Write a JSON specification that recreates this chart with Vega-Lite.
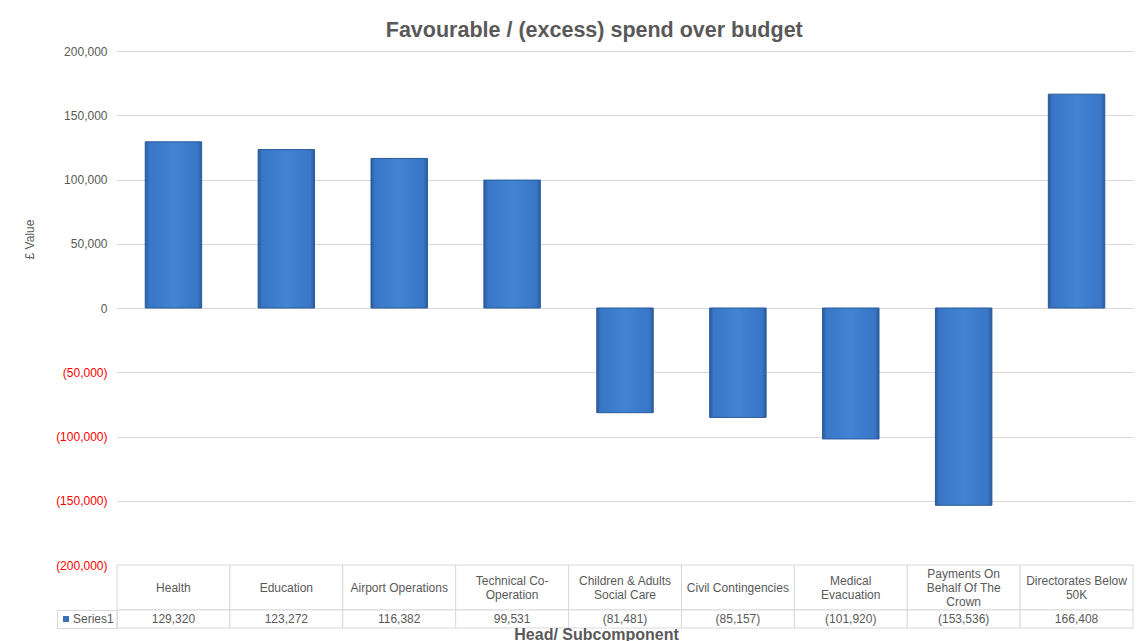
{
  "$schema": "https://vega.github.io/schema/vega-lite/v6.json",
  "autosize": {"type": "pad"},
  "padding": {"left": 23, "top": 19, "right": 0, "bottom": 0},
  "bounds": "flush",
  "spacing": 0,
  "background": "white",
  "resolve": {"scale": {"color": "independent"}, "legend": {"color": "independent"}},
  "config": {
    "font": "Liberation Sans",
    "view": {"stroke": null},
    "axis": {"labelFont": "Liberation Sans", "titleFont": "Liberation Sans"}
  },
  "title": {
    "text": "Favourable / (excess) spend over budget",
    "font": "Liberation Sans",
    "fontSize": 21.5,
    "fontWeight": "bold",
    "color": "#595959",
    "anchor": "middle",
    "dx": 16,
    "offset": 4
  },
  "data": {
    "values": [
      {"category": "Health", "label": "Health", "value": 129320, "series": "Series1"},
      {"category": "Education", "label": "Education", "value": 123272, "series": "Series1"},
      {"category": "Airport Operations", "label": "Airport Operations", "value": 116382, "series": "Series1"},
      {"category": "Technical Co-Operation", "label": "Technical Co-|Operation", "value": 99531, "series": "Series1"},
      {"category": "Children & Adults Social Care", "label": "Children & Adults|Social Care", "value": -81481, "series": "Series1"},
      {"category": "Civil Contingencies", "label": "Civil Contingencies", "value": -85157, "series": "Series1"},
      {"category": "Medical Evacuation", "label": "Medical|Evacuation", "value": -101920, "series": "Series1"},
      {"category": "Payments On Behalf Of The Crown", "label": "Payments On|Behalf Of The|Crown", "value": -153536, "series": "Series1"},
      {"category": "Directorates Below 50K", "label": "Directorates Below|50K", "value": 166408, "series": "Series1"}
    ]
  },
  "vconcat": [
    {
      "width": 1016,
      "height": 514,
      "mark": {
        "type": "bar",
        "stroke": "#2b5a98",
        "strokeWidth": 1,
        "color": {
          "gradient": "linear",
          "x1": 0, "y1": 0, "x2": 1, "y2": 0,
          "stops": [
            {"offset": 0, "color": "#2a5b9c"},
            {"offset": 0.07, "color": "#3976c6"},
            {"offset": 0.5, "color": "#4183d4"},
            {"offset": 0.93, "color": "#3976c6"},
            {"offset": 1, "color": "#2a5b9c"}
          ]
        }
      },
      "encoding": {
        "x": {
          "field": "category",
          "type": "nominal",
          "sort": null,
          "axis": null,
          "scale": {"paddingInner": 0.5, "paddingOuter": 0.25}
        },
        "y": {
          "field": "value",
          "type": "quantitative",
          "scale": {"domain": [-200000, 200000], "nice": false},
          "axis": {
            "title": "£ Value",
            "titleFontSize": 12,
            "titleFontWeight": "normal",
            "titleColor": "#595959",
            "titleX": -81,
            "titleY": 188,
            "values": [-200000, -150000, -100000, -50000, 0, 50000, 100000, 150000, 200000],
            "labelExpr": "datum.value < 0 ? '(' + format(-datum.value, ',') + ')' : format(datum.value, ',')",
            "labelColor": {"condition": {"test": "datum.value < 0", "value": "#ff0000"}, "value": "#595959"},
            "labelFontSize": 12,
            "labelPadding": 10,
            "domain": false,
            "ticks": false,
            "grid": true,
            "gridColor": "#d9d9d9",
            "gridWidth": 1
          }
        }
      }
    },
    {
      "width": 1016,
      "height": 45,
      "layer": [
        {
          "mark": {"type": "rect", "fill": "white", "stroke": "#d9d9d9", "strokeWidth": 1},
          "encoding": {
            "x": {"field": "category", "type": "nominal", "sort": null, "axis": null, "scale": {"paddingInner": 0, "paddingOuter": 0}}
          }
        },
        {
          "mark": {
            "type": "text",
            "lineBreak": "|",
            "fontSize": 12,
            "color": "#595959",
            "baseline": "middle",
            "lineHeight": 14,
            "dy": {"expr": "-7 * (length(split(datum.label, '|')) - 1)"}
          },
          "encoding": {
            "x": {"field": "category", "type": "nominal", "sort": null, "axis": null},
            "text": {"field": "label"}
          }
        }
      ]
    },
    {
      "width": 1016,
      "height": 18,
      "layer": [
        {
          "mark": {"type": "rect", "fill": "white", "stroke": "#d9d9d9", "strokeWidth": 1},
          "encoding": {
            "x": {
              "field": "category", "type": "nominal", "sort": null,
              "scale": {"paddingInner": 0, "paddingOuter": 0},
              "axis": {
                "title": "Head/ Subcomponent",
                "titleFontSize": 16,
                "titleFontWeight": "bold",
                "titleColor": "#595959",
                "titlePadding": -2,
                "titleX": 479,
                "labels": false,
                "ticks": false,
                "domain": false,
                "grid": false
              }
            }
          }
        },
        {
          "mark": {"type": "point", "filled": true, "size": 0},
          "encoding": {
            "x": {"field": "category", "type": "nominal", "sort": null},
            "color": {
              "field": "series",
              "type": "nominal",
              "scale": {"range": ["#3a70b8"]},
              "legend": {
                "orient": "left",
                "title": null,
                "offset": 0,
                "padding": 3,
                "strokeColor": "#d9d9d9",
                "symbolType": "square",
                "symbolSize": 36,
                "symbolOpacity": 1,
                "labelFontSize": 12,
                "labelColor": "#595959",
                "labelOffset": 1,
                "labelFont": "Liberation Sans"
              }
            }
          }
        },
        {
          "mark": {
            "type": "text",
            "fontSize": 12,
            "color": "#595959",
            "baseline": "middle",
            "text": {"expr": "datum.value < 0 ? '(' + format(-datum.value, ',') + ')' : format(datum.value, ',')"}
          },
          "encoding": {
            "x": {"field": "category", "type": "nominal", "sort": null}
          }
        }
      ]
    }
  ]
}
